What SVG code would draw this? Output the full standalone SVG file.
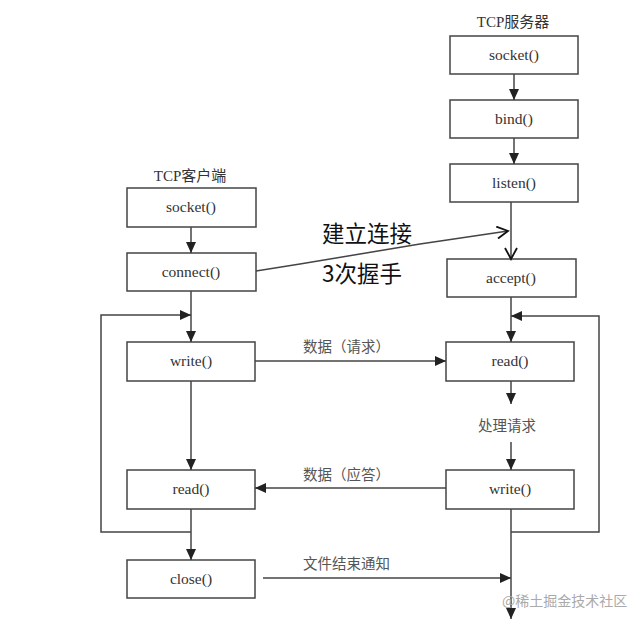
<svg xmlns="http://www.w3.org/2000/svg" width="640" height="625" viewBox="0 0 640 625">
<style>
.box{fill:#fff;stroke:#444;stroke-width:1.5}
.bt{font-family:"Liberation Serif","Noto Sans CJK SC",serif;font-size:15.5px;fill:#333;text-anchor:middle}
.title{font-family:"Liberation Serif","Noto Sans CJK SC",serif;font-size:15px;fill:#333;text-anchor:middle}
.lbl{font-family:"Noto Sans CJK SC",sans-serif;font-size:14.5px;fill:#555}
.big{font-family:"Noto Sans CJK SC",sans-serif;font-size:22.5px;fill:#111}
.ln{fill:none;stroke:#444;stroke-width:1.5}
.wm{font-family:"Noto Sans CJK SC",sans-serif;font-size:14px;fill:#aaa}
</style>
<defs>
<marker id="ah" markerUnits="userSpaceOnUse" markerWidth="12" markerHeight="10" refX="11" refY="5" orient="auto">
<path d="M0,0 L11,5 L0,10 Z" fill="#222"/>
</marker>
<marker id="av" markerUnits="userSpaceOnUse" markerWidth="14" markerHeight="14" refX="12" refY="7" orient="auto">
<path d="M1,1 L12,7 L1,13" fill="none" stroke="#111" stroke-width="1.8"/>
</marker>
</defs>
<rect width="640" height="625" fill="#fff"/>
<text class="title" x="513" y="27">TCP服务器</text>
<text class="title" x="190" y="181">TCP客户端</text>

<g id="s_socket"><rect class="box" x="450" y="36" width="128" height="38"/><text class="bt" x="514" y="60">socket()</text></g>
<g id="s_bind"><rect class="box" x="450" y="100" width="128" height="38"/><text class="bt" x="514" y="124">bind()</text></g>
<g id="s_listen"><rect class="box" x="450" y="164" width="128" height="38"/><text class="bt" x="514" y="188">listen()</text></g>
<g id="s_accept"><rect class="box" x="447" y="259" width="129" height="38"/><text class="bt" x="511" y="283">accept()</text></g>
<g id="s_read"><rect class="box" x="446" y="342" width="128" height="39"/><text class="bt" x="510" y="366">read()</text></g>
<g id="s_write"><rect class="box" x="446" y="470" width="128" height="39"/><text class="bt" x="510" y="494">write()</text></g>

<g id="c_socket"><rect class="box" x="127" y="188" width="129" height="39"/><text class="bt" x="191" y="212">socket()</text></g>
<g id="c_connect"><rect class="box" x="127" y="253" width="129" height="38"/><text class="bt" x="191" y="277">connect()</text></g>
<g id="c_write"><rect class="box" x="127" y="342" width="128" height="39"/><text class="bt" x="191" y="366">write()</text></g>
<g id="c_read"><rect class="box" x="127" y="470" width="128" height="39"/><text class="bt" x="191" y="494">read()</text></g>
<g id="c_close"><rect class="box" x="127" y="560" width="128" height="38"/><text class="bt" x="191" y="584">close()</text></g>

<g id="connectors">
<line class="ln" x1="514" y1="74" x2="514" y2="100" marker-end="url(#ah)"/>
<line class="ln" x1="514" y1="138" x2="514" y2="164" marker-end="url(#ah)"/>
<line class="ln" x1="511" y1="202" x2="511" y2="259" marker-end="url(#av)"/>
<path class="ln" d="M256,271 L300,264 L360,254 L420,244 L508,231" stroke="#111" stroke-width="2" marker-end="url(#av)"/>
<line class="ln" x1="511" y1="297" x2="511" y2="342" marker-end="url(#ah)"/>
<polyline class="ln" points="511,532 599,532 599,316 511,316" marker-end="url(#ah)"/>
<line class="ln" x1="511" y1="381" x2="511" y2="404" marker-end="url(#ah)"/>
<line class="ln" x1="511" y1="442" x2="511" y2="470" marker-end="url(#ah)"/>
<line class="ln" x1="511" y1="509" x2="511" y2="619" marker-end="url(#ah)"/>

<line class="ln" x1="191" y1="227" x2="191" y2="253" marker-end="url(#ah)"/>
<line class="ln" x1="191" y1="291" x2="191" y2="342" marker-end="url(#ah)"/>
<polyline class="ln" points="191,532 101,532 101,315 191,315" marker-end="url(#ah)"/>
<line class="ln" x1="191" y1="381" x2="191" y2="470" marker-end="url(#ah)"/>
<line class="ln" x1="191" y1="509" x2="191" y2="560" marker-end="url(#ah)"/>

<line class="ln" x1="255" y1="361" x2="446" y2="361" marker-end="url(#ah)"/>
<line class="ln" x1="446" y1="488" x2="255" y2="488" marker-end="url(#ah)"/>
<line class="ln" x1="263" y1="578" x2="511" y2="578" marker-end="url(#ah)"/>
</g>

<text class="big" x="322" y="242">建立连接</text>
<text class="big" x="322" y="282">3次握手</text>
<text class="lbl" x="303" y="352">数据（请求）</text>
<text class="lbl" x="303" y="480">数据（应答）</text>
<text class="lbl" x="303" y="569">文件结束通知</text>
<text class="lbl" x="478" y="431" font-size="15.5">处理请求</text>
<text class="wm" x="502" y="606">@稀土掘金技术社区</text>
</svg>
